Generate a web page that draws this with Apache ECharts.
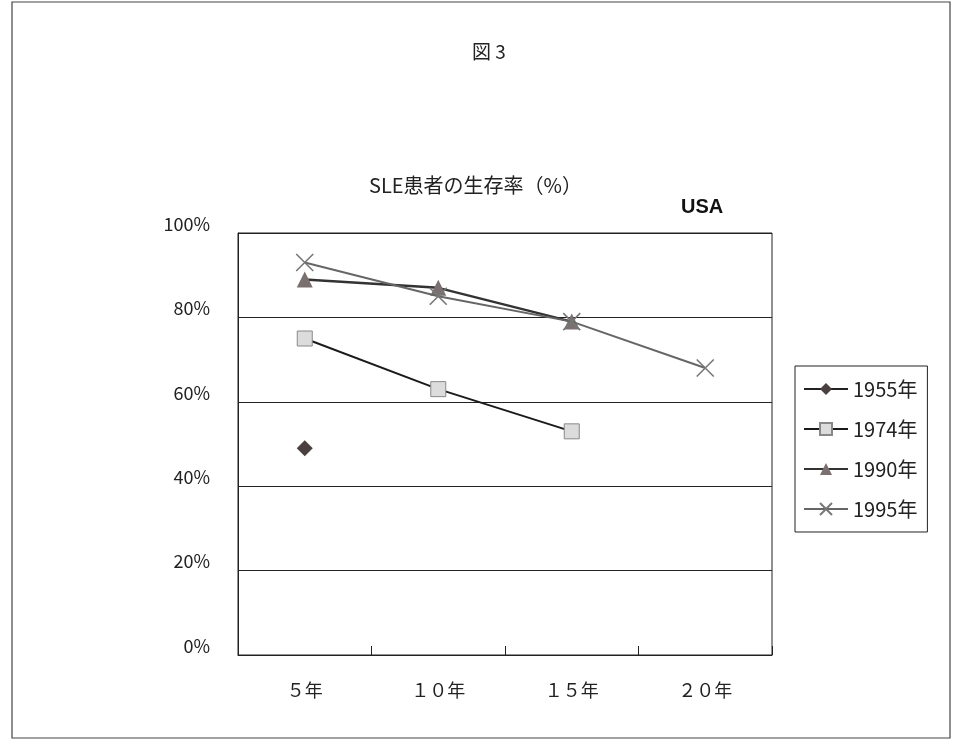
<!DOCTYPE html>
<html>
<head>
<meta charset="utf-8">
<script src="https://cdn.jsdelivr.net/npm/echarts@6/dist/echarts.min.js"></script>
<style>
  html, body { margin: 0; padding: 0; background: #fff; }
  #chart { width: 954px; height: 754px; }
</style>
</head>
<body>
<div id="chart"></div>
<script>
// 横軸（年数）
const categories = ["５年", "１０年", "１５年", "２０年"];
// 各年代の生存率 (%)
const s1955 = [49, null, null, null];
const s1974 = [75, 63, 53, null];
const s1990 = [89, 87, 79, null];
const s1995 = [93, 85, 79, 68];
const yTicks = [0, 20, 40, 60, 80, 100];

const font = "'Noto Sans CJK JP', 'Liberation Sans', sans-serif";
const textColor = "#222";

const chart = echarts.init(document.getElementById("chart"));

chart.setOption({
  backgroundColor: "#fff",
  animation: false,
  textStyle: { fontFamily: font, color: textColor },
  title: [
    { text: "図 3", left: 467, top: 37, textStyle: { fontSize: 19, fontWeight: "normal", color: textColor, fontFamily: font } },
    { text: "SLE患者の生存率（%）", left: 364, top: 170, textStyle: { fontSize: 20, fontWeight: "normal", color: textColor, fontFamily: font } },
    { text: "USA", left: 676, top: 192, textStyle: { fontSize: 20, fontWeight: "bold", color: "#111", fontFamily: "'Liberation Sans', Arial, sans-serif" } },
  ],
  graphic: [
    {
      type: "rect",
      shape: { x: 12, y: 2, width: 938, height: 736 },
      style: { fill: "none", stroke: "#444", lineWidth: 1.2 },
      silent: true,
    },
  ],
  legend: {
    orient: "vertical",
    left: 795,
    top: 366,
    itemWidth: 44,
    itemHeight: 15,
    itemGap: 20,
    padding: [13, 10, 13, 8],
    borderColor: "#222",
    borderWidth: 1,
    textStyle: { fontSize: 20, color: textColor, fontFamily: font },
    data: ["1955年", "1974年", "1990年", "1995年"],
  },
  grid: {
    left: 238,
    top: 233,
    width: 534,
    height: 422,
    show: true,
    borderColor: "#222",
    borderWidth: 1,
    backgroundColor: "#fff",
  },
  xAxis: {
    type: "category",
    data: categories,
    boundaryGap: true,
    axisLine: { lineStyle: { color: "#222", width: 1 } },
    axisTick: { show: true, inside: true, length: 9, lineStyle: { color: "#222" } },
    axisLabel: { fontSize: 18, color: textColor, margin: 26, fontFamily: font },
  },
  yAxis: {
    type: "value",
    min: yTicks[0],
    max: yTicks[yTicks.length - 1],
    interval: 20,
    axisLine: { show: true, lineStyle: { color: "#222" } },
    axisTick: { show: false },
    splitLine: { show: true, lineStyle: { color: "#222", width: 1 } },
    axisLabel: {
      fontSize: 18,
      color: textColor,
      margin: 28,
      verticalAlign: "bottom",
      fontFamily: font,
      formatter: (v) => v + "%",
    },
  },
  series: [
    {
      name: "1955年",
      type: "line",
      data: s1955,
      symbol: "diamond",
      symbolSize: 16,
      itemStyle: { color: "#4a4040" },
      lineStyle: { color: "#222", width: 2 },
      z: 3,
    },
    {
      name: "1974年",
      type: "line",
      data: s1974,
      symbol: "rect",
      symbolSize: 15,
      showAllSymbol: true,
      itemStyle: { color: "#dcdcdc", borderColor: "#888", borderWidth: 1 },
      lineStyle: { color: "#1a1a1a", width: 2 },
      z: 3,
    },
    {
      name: "1990年",
      type: "line",
      data: s1990,
      symbol: "triangle",
      symbolSize: 16,
      itemStyle: { color: "#7a7070" },
      lineStyle: { color: "#333", width: 2.5 },
      z: 4,
    },
    {
      name: "1995年",
      type: "line",
      data: s1995,
      symbol: "path://M0,0L10,10M10,0L0,10",
      symbolSize: 17,
      itemStyle: { color: "#888", borderColor: "#777", borderWidth: 1.6 },
      lineStyle: { color: "#666", width: 2 },
      z: 5,
    },
  ],
});
</script>
</body>
</html>
